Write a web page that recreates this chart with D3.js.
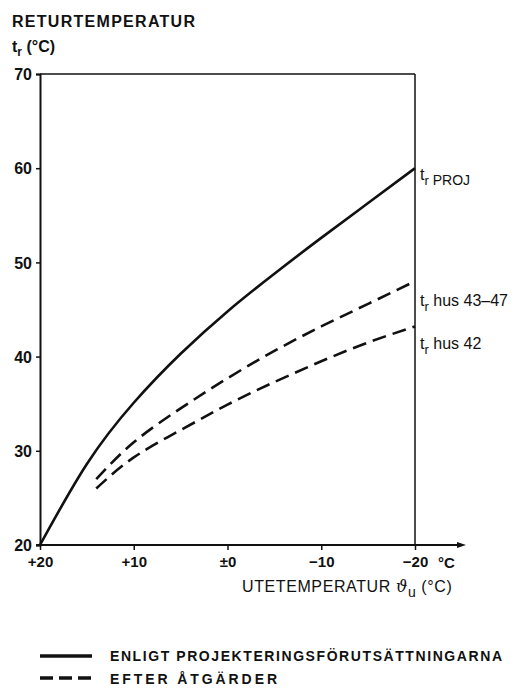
<!DOCTYPE html>
<html>
<head>
<meta charset="utf-8">
<script src="https://cdn.jsdelivr.net/npm/d3@7"></script>
<style>
  body { margin: 0; background: #fff; }
  svg { font-family: "Liberation Sans", Arial, sans-serif; }
  text { fill: #111; }
</style>
</head>
<body>
<div id="chart"></div>
<script>
// axis ticks
const xTicks = [20, 10, 0, -10, -20];
const xTickLabels = ["+20", "+10", "±0", "−10", "−20"];
const yTicks = [20, 30, 40, 50, 60, 70];

// tr PROJ (heltdragen)
const projTemps = [20, 15, 10, 5, 0, -5, -10, -15, -20];
const projValues = [20, 28.6, 35.1, 40.3, 44.8, 48.8, 52.6, 56.3, 60];

// efter åtgärder (streckade)
const dashTemps = [14, 10, 5, 0, -5, -10, -15, -20];
const hus4347 = [27.0, 30.9, 34.5, 37.7, 40.6, 43.2, 45.6, 48.0];
const hus42 = [26.0, 29.3, 32.2, 34.9, 37.3, 39.5, 41.5, 43.2];

const W = 528, H = 688;
const svg = d3.select("#chart").append("svg")
  .attr("width", W).attr("height", H);

const x = d3.scaleLinear().domain([20, -20]).range([40, 415]);
const y = d3.scaleLinear().domain([20, 70]).range([545, 74]);

const ink = "#111";

// frame: top and right
svg.append("line").attr("x1", x(20)).attr("x2", x(-20)).attr("y1", y(70)).attr("y2", y(70))
  .attr("stroke", ink).attr("stroke-width", 1.5);
svg.append("line").attr("x1", x(-20)).attr("x2", x(-20)).attr("y1", y(70)).attr("y2", y(20))
  .attr("stroke", ink).attr("stroke-width", 1.5);

// y axis
const yAxis = svg.append("g").attr("transform", `translate(${x(20)},0)`)
  .call(d3.axisLeft(y).tickValues(yTicks).tickSize(4).tickFormat(d3.format("d")));
yAxis.select(".domain").attr("stroke", ink).attr("stroke-width", 2);
yAxis.selectAll(".tick line").attr("stroke", ink).attr("stroke-width", 1.5);
yAxis.selectAll(".tick text").attr("x", -8).attr("dy", "0.35em")
  .style("font-size", "16px").style("font-weight", "bold").attr("fill", ink);

// x axis
const xAxis = svg.append("g").attr("transform", `translate(0,${y(20)})`)
  .call(d3.axisBottom(x).tickValues(xTicks).tickSize(5).tickFormat((d, i) => xTickLabels[i]));
xAxis.select(".domain").remove();
xAxis.selectAll(".tick line").attr("stroke", ink).attr("stroke-width", 1.5);
xAxis.selectAll(".tick text").attr("y", 11)
  .style("font-size", "15px").style("font-weight", "bold").attr("fill", ink);

// x axis line with arrow
svg.append("line").attr("x1", x(20) - 4).attr("x2", 460).attr("y1", y(20)).attr("y2", y(20))
  .attr("stroke", ink).attr("stroke-width", 2);
svg.append("path").attr("d", `M457,${y(20) - 3}L466,${y(20)}L457,${y(20) + 3}Z`).attr("fill", ink);

svg.append("text").attr("x", 438).attr("y", 568)
  .style("font-size", "15px").style("font-weight", "bold").text("°C");

// axis titles
svg.append("text").attr("x", 12).attr("y", 27)
  .style("font-size", "16px").style("font-weight", "bold")
  .attr("textLength", 183).attr("lengthAdjust", "spacing").text("RETURTEMPERATUR");
const ty = svg.append("text").attr("x", 12).attr("y", 52)
  .style("font-size", "16px").style("font-weight", "bold");
ty.append("tspan").text("t");
ty.append("tspan").attr("dy", 4).style("font-size", "12px").text("r");
ty.append("tspan").attr("dy", -4).text(" (°C)");

const tx = svg.append("text").attr("x", 242).attr("y", 592)
  .style("font-size", "16px").style("letter-spacing", "0.6px");
tx.append("tspan").text("UTETEMPERATUR ");
tx.append("tspan").style("font-family", "DejaVu Serif").style("font-style", "italic").text("ϑ");
tx.append("tspan").attr("dy", 5).style("font-size", "14px").text("u");
tx.append("tspan").attr("dy", -5).text(" (°C)");

// curves
const line = d3.line().x(d => x(d[0])).y(d => y(d[1])).curve(d3.curveNatural);

svg.append("path").datum(projTemps.map((t, i) => [t, projValues[i]]))
  .attr("d", line).attr("fill", "none").attr("stroke", ink).attr("stroke-width", 2.6);

[hus4347, hus42].forEach(vals => {
  svg.append("path").datum(dashTemps.map((t, i) => [t, vals[i]]))
    .attr("d", line).attr("fill", "none").attr("stroke", ink).attr("stroke-width", 2.6)
    .attr("stroke-dasharray", "14,7");
});

// end labels
function endLabel(val, ysub, main, rest) {
  const t = svg.append("text").attr("x", x(-20) + 5).attr("y", y(val) + ysub)
    .style("font-size", "16px");
  t.append("tspan").text("t");
  t.append("tspan").attr("dy", 5).style("font-size", "13px").text("r");
  if (main) t.append("tspan").style("font-size", "14px").text(" " + main);
  else t.append("tspan").attr("dy", -5).text(" " + rest);
}
endLabel(60, 12, "PROJ", null);
endLabel(48, 25, null, "hus 43–47");
endLabel(43.2, 23, null, "hus 42");

// legend
svg.append("line").attr("x1", 40).attr("x2", 92).attr("y1", 656).attr("y2", 656)
  .attr("stroke", ink).attr("stroke-width", 3.5);
svg.append("line").attr("x1", 40).attr("x2", 92).attr("y1", 678).attr("y2", 678)
  .attr("stroke", ink).attr("stroke-width", 3.5).attr("stroke-dasharray", "13,6");
svg.append("text").attr("x", 110).attr("y", 661)
  .style("font-size", "14px").style("font-weight", "bold")
  .attr("textLength", 392).attr("lengthAdjust", "spacing")
  .text("ENLIGT PROJEKTERINGSFÖRUTSÄTTNINGARNA");
svg.append("text").attr("x", 110).attr("y", 684)
  .style("font-size", "14px").style("font-weight", "bold")
  .attr("textLength", 167).attr("lengthAdjust", "spacing")
  .text("EFTER ÅTGÄRDER");
</script>
</body>
</html>
